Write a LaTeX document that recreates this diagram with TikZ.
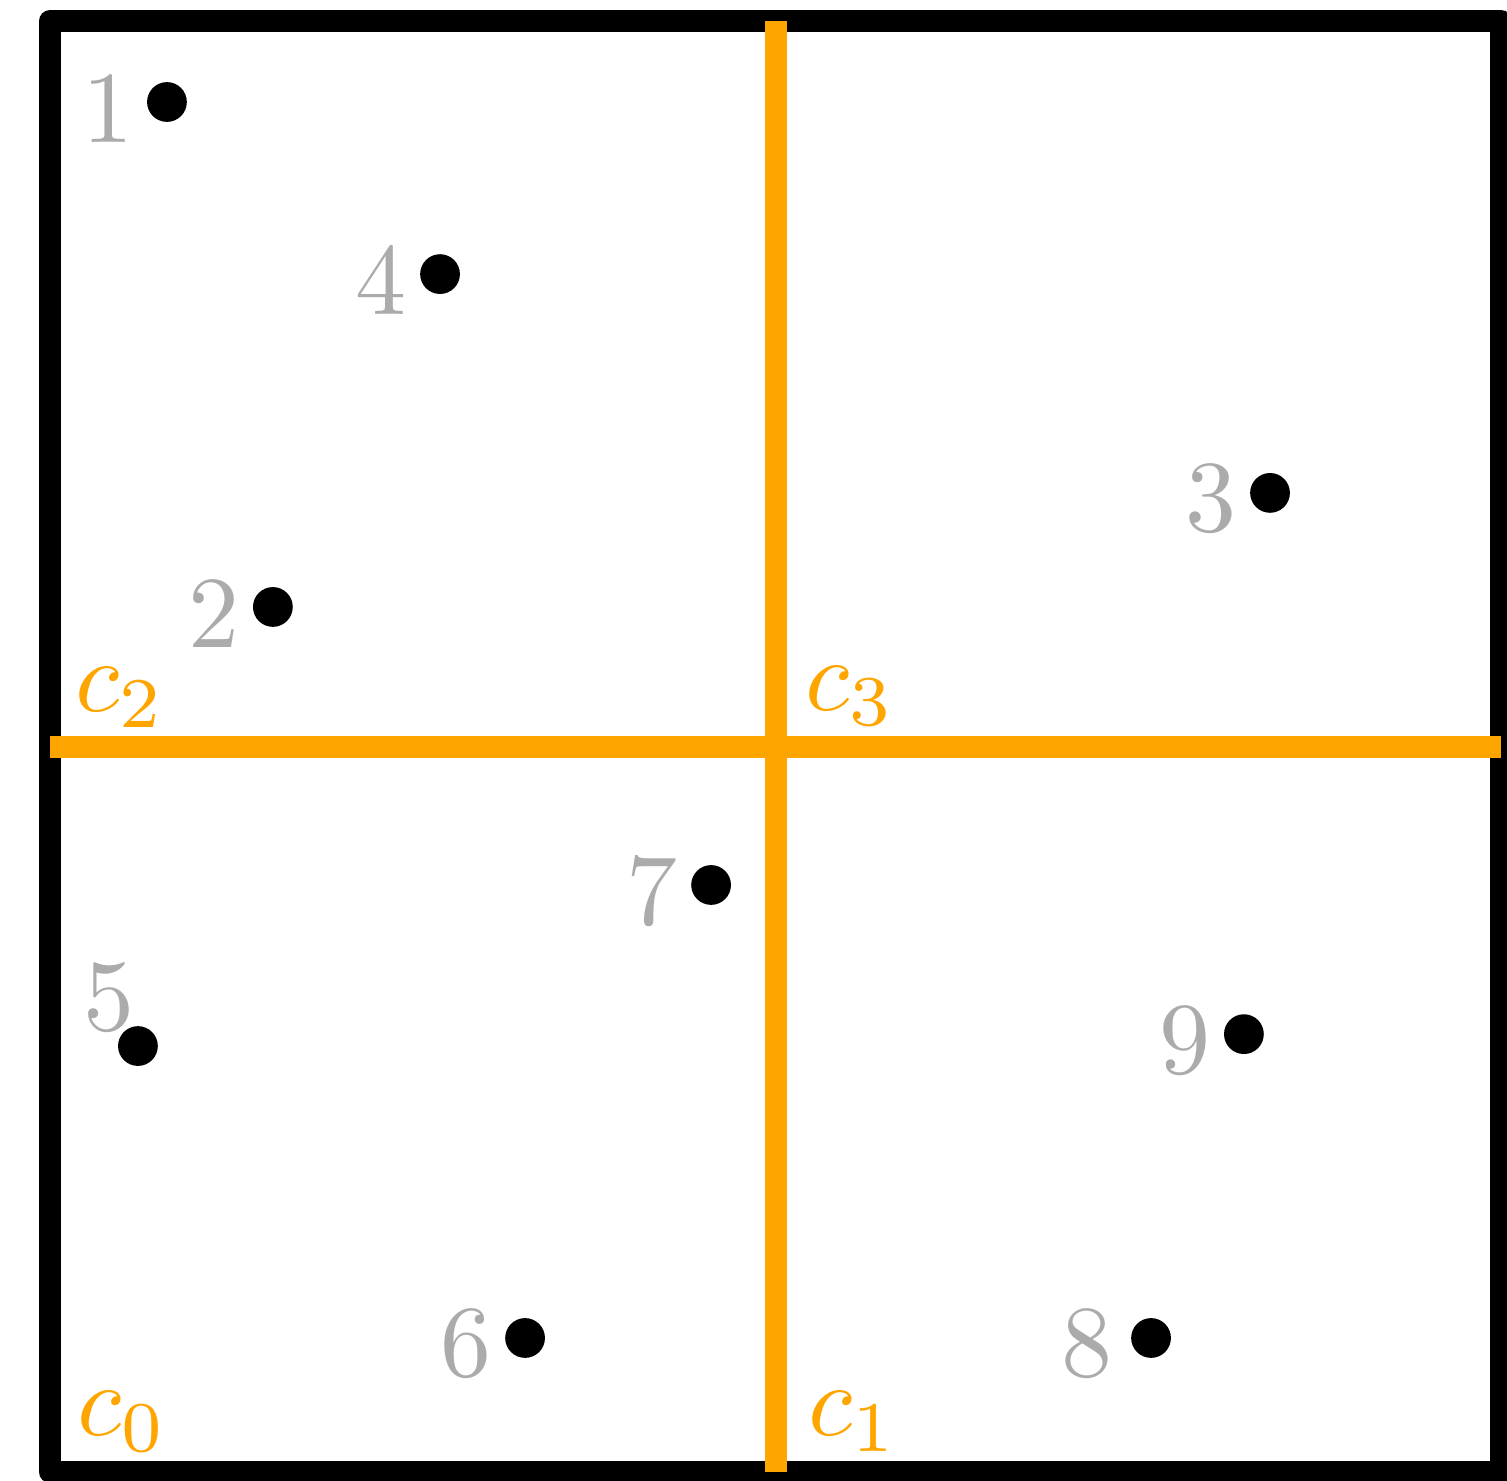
\documentclass[tikz,border=0pt]{standalone}
\usepackage{amsmath}
\usepackage{xcolor}
\usepackage{tikz}
\definecolor{splitorange}{RGB}{255,165,0}

\begin{document}
\begin{tikzpicture}[
  font=\normalsize,
  label distance=0.9pt,
  frame/.style={draw=black, line width=2.16pt, line join=round},
  split/.style={draw=splitorange, line width=2.16pt},
  pt/.style={circle, fill=black, inner sep=0pt, minimum size=3.9pt},
  tag/.style={text=black!33, inner sep=0pt, yshift=-0.6pt},
  cell/.style={text=splitorange, inner sep=0pt, anchor=base west}
]
\useasboundingbox (-0.1723,-0.0276) rectangle (5.0207,5.0724);

% outer square and the split lines
\draw[frame] (0,0) rectangle (5,5);
\coordinate (top) at (2.5,5);
\coordinate (bottom) at (2.5,0);
\coordinate (left) at (0,2.5);
\coordinate (right) at (5,2.5);
\draw[split] (bottom) -- (top);
\draw[split] (left) -- (right);

% cell names
\node[cell] (c0) at (0.087,0.125) {$c_0$};
\node[cell] (c1) at (2.605,0.125) {$c_1$};
\node[cell] (c2) at (0.080,2.620) {$c_2$};
\node[cell] (c3) at (2.595,2.625) {$c_3$};

% points
\node[pt, label={[tag]left:1}] (p1) at (0.403,4.721) {};
\node[pt, label={[tag]left:2}] (p2) at (0.768,2.981) {};
\node[pt, label={[tag]left:3}] (p3) at (4.204,3.374) {};
\node[pt, label={[tag]left:4}] (p4) at (1.344,4.128) {};
\node[pt, label={[tag, label distance=0.5pt, xshift=1.2pt, yshift=-0.6pt]120:5}] (p5) at (0.303,1.468) {};
\node[pt, label={[tag]left:6}] (p6) at (1.637,0.462) {};
\node[pt, label={[tag]left:7}] (p7) at (2.278,2.023) {};
\node[pt, label={[tag, label distance=1.4pt]left:8}] (p8) at (3.794,0.462) {};
\node[pt, label={[tag]left:9}] (p9) at (4.114,1.509) {};
\end{tikzpicture}
\end{document}
